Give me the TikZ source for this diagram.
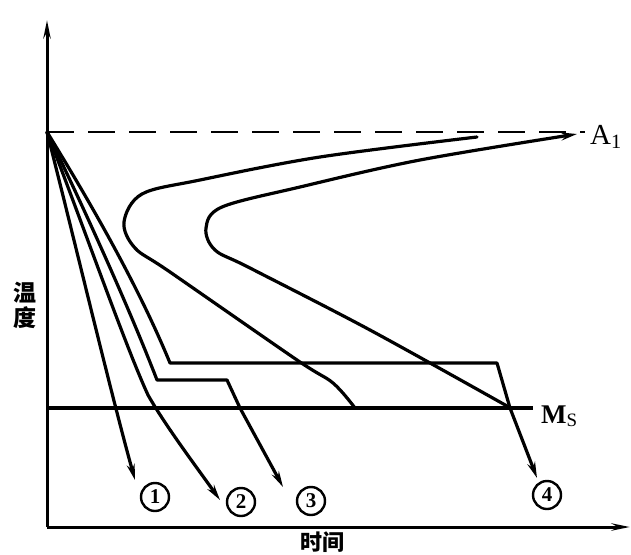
\documentclass[tikz,border=0pt]{standalone}
\usepackage{fontspec}
\setmainfont{Liberation Serif}
\newfontfamily\cjk{Noto Sans CJK SC}
\usetikzlibrary{arrows.meta}
\begin{document}
\begin{tikzpicture}[x=1pt,y=-1pt,
  curve/.style={line width=3.2pt, line join=round, line cap=round},
  tipend/.style={-{Stealth[length=16pt,width=8pt]}},
  axis/.style={line width=3pt},
  num/.style={circle, draw, line width=2.4pt, minimum size=28pt, inner sep=0pt,
              font=\fontsize{21}{21}\selectfont\bfseries}]
\useasboundingbox (0,0) rectangle (631,554);
% axes
\coordinate (O) at (47,132);
\coordinate (corner) at (47,527);
\coordinate (ytop) at (47,20);
\coordinate (xend) at (630,527);
\draw[axis,-{Stealth[length=18pt,width=7pt]}] (corner) -- (ytop);
\draw[axis,-{Stealth[length=18pt,width=7pt]}] (corner) -- (xend);
% A1 dashed line
\coordinate (aend) at (585,132);
\draw[line width=2.4pt, dash pattern=on 27pt off 14pt] (O) -- (aend);
\node[anchor=base west, font=\fontsize{29}{29}\selectfont, inner sep=0pt] (A1) at (590,144) {A\textsubscript{1}};
% Ms line
\coordinate (msl) at (47,408);
\coordinate (msr) at (533,408);
\draw[line width=4pt] (msl) -- (msr);
\node[anchor=base west, font=\fontsize{27}{27}\selectfont\bfseries, inner sep=0pt] (Ms) at (541,423) {M\textsubscript{\mdseries S}};
% C curves
\draw[curve] plot[smooth, tension=0.55] coordinates {(477,137) (320,157) (200,180) (142,194) (124,222) (135,248) (170,272) (297,360) (333,383) (355,408)};
\draw[curve,tipend] plot[smooth, tension=0.55] coordinates {(507,406) (370,330) (250,268) (215,250) (206,228) (222,207) (300,187) (420,160) (577,134)};
% cooling curves
\draw[curve,tipend] (O) .. controls (72,230) and (110,390) .. (135,480);
\draw[curve,tipend] (O) .. controls (85,230) and (125,345) .. (148,395) .. controls (165,425) and (195,465) .. (220,500);
\draw[curve,tipend] (O) .. controls (85,210) and (130,310) .. (157,380) -- (227,380) -- (240,408) -- (283,487);
\draw[curve,tipend] (O) .. controls (95,210) and (140,290) .. (170,363) -- (497,363) -- (510,408) -- (537,478);
% numbers
\node[num] (n1) at (155,497) {1};
\node[num] (n2) at (241,502) {2};
\node[num] (n3) at (311,501) {3};
\node[num] (n4) at (547,495) {4};
% axis labels
\node[font=\cjk\bfseries\fontsize{23}{25}\selectfont, align=center, inner sep=0pt] (ylab) at (25,305) {温\\度};
\node[font=\cjk\bfseries\fontsize{22}{22}\selectfont, inner sep=0pt] (xlab) at (322,542) {时间};
\end{tikzpicture}
\end{document}
